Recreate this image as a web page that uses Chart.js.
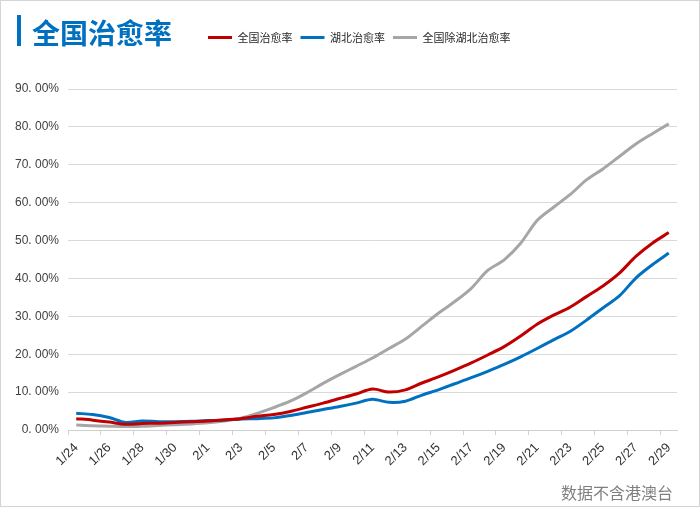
<!DOCTYPE html>
<html>
<head>
<meta charset="utf-8">
<script src="https://cdn.jsdelivr.net/npm/chart.js@4.4.0/dist/chart.umd.min.js"></script>
<style>
  html, body { margin: 0; padding: 0; background: #fff; }
  #wrap { position: relative; width: 700px; height: 507px; overflow: hidden; }
  #box { position: absolute; left: 0; top: 0; width: 700px; height: 507px; }
  #frame { position: absolute; left: 0; top: 0; width: 700px; height: 507px; box-sizing: border-box; border: 1px solid #d4d4d4; pointer-events: none; }
  #bar { position: absolute; left: 17px; top: 15px; width: 4px; height: 31px; background: #0070c0; }
  #title { position: absolute; left: 32px; top: 12px; line-height: 40px; font: bold 28px 'Noto Sans CJK SC', sans-serif; color: #0070c0; }
  #note { position: absolute; right: 27px; top: 480px; line-height: 20px; font: 16px 'Noto Sans CJK SC', sans-serif; color: #7f7f7f; }
</style>
</head>
<body>
<div id="wrap">
  <div id="box"><canvas id="chart"></canvas></div>
  <div id="bar"></div>
  <div id="title">全国治愈率</div>
  <div id="note">数据不含港澳台</div>
  <div id="frame"></div>
</div>
<script>
const dates = [
  '1/24', '1/25', '1/26', '1/27', '1/28', '1/29', '1/30', '1/31',
  '2/1', '2/2', '2/3', '2/4', '2/5', '2/6', '2/7', '2/8', '2/9', '2/10',
  '2/11', '2/12', '2/13', '2/14', '2/15', '2/16', '2/17', '2/18', '2/19', '2/20',
  '2/21', '2/22', '2/23', '2/24', '2/25', '2/26', '2/27', '2/28', '2/29'
];

// 治愈率, %
const nationalRate = [
  3.0, 2.6, 2.1, 1.5, 1.7, 1.8, 2.0, 2.2,
  2.4, 2.7, 3.0, 3.6, 4.1, 4.9, 6.0, 7.1, 8.3, 9.5,
  10.8, 10.0, 10.6, 12.4, 14.0, 15.8, 17.7, 19.8, 22.0, 24.8,
  27.9, 30.3, 32.4, 35.2, 38.0, 41.4, 45.8, 49.3, 52.1
];
const hubeiRate = [
  4.4, 4.1, 3.3, 2.0, 2.4, 2.2, 2.2, 2.3,
  2.5, 2.6, 2.9, 3.0, 3.2, 3.8, 4.6, 5.4, 6.2, 7.1,
  8.1, 7.3, 7.6, 9.2, 10.6, 12.2, 13.8, 15.5, 17.3, 19.3,
  21.5, 23.8, 26.0, 29.0, 32.2, 35.4, 40.1, 43.6, 46.7
];
const outsideHubeiRate = [
  1.3, 1.1, 1.0, 0.9, 1.0, 1.2, 1.4, 1.6,
  1.9, 2.4, 3.1, 4.4, 5.9, 7.6, 9.8, 12.3, 14.6, 16.8,
  19.0, 21.5, 24.0, 27.4, 30.8, 33.9, 37.4, 42.1, 44.9, 49.3,
  55.3, 58.8, 62.1, 66.0, 68.9, 72.2, 75.5, 78.2, 80.8
];

const yTicks = [0, 10, 20, 30, 40, 50, 60, 70, 80, 90];

Chart.defaults.font.family = "'Liberation Sans', 'Noto Sans CJK SC', sans-serif";
Chart.defaults.color = '#404040';

// legend sits on the title row, left of the plot's right edge
const legendSpot = {
  id: 'legendSpot',
  afterLayout(chart) {
    const lg = chart.legend;
    const h = lg.bottom - lg.top;
    lg.left = 200;
    lg.right = 690;
    lg.top = 24;
    lg.bottom = 24 + h;
  }
};

const line = (label, data, color) => ({
  label: label,
  data: data,
  borderColor: color,
  backgroundColor: color,
  borderWidth: 3,
  pointRadius: 0,
  tension: 0.3,
  fill: false
});

new Chart(document.getElementById('chart'), {
  type: 'line',
  data: {
    labels: dates,
    datasets: [
      line('全国治愈率', nationalRate, '#c00000'),
      line('湖北治愈率', hubeiRate, '#0070c0'),
      line('全国除湖北治愈率', outsideHubeiRate, '#a6a6a6')
    ]
  },
  plugins: [legendSpot],
  options: {
    responsive: true,
    maintainAspectRatio: false,
    animation: false,
    layout: {
      padding: { top: 60, right: 23, left: 0, bottom: 0 }
    },
    scales: {
      x: {
        offset: true,
        afterFit: (scale) => { scale.height = 77; },
        border: { display: true, color: '#d0d0d0', width: 1 },
        grid: {
          offset: true,
          drawOnChartArea: false,
          drawTicks: true,
          tickLength: 5,
          color: (ctx) => (ctx.index % 2 === 0 ? '#d0d0d0' : 'rgba(0,0,0,0)')
        },
        ticks: {
          autoSkip: false,
          maxRotation: 45,
          minRotation: 45,
          padding: 5,
          font: { size: 13 },
          color: '#333333',
          callback: (value, index) => (index % 2 === 0 ? dates[index] : '')
        }
      },
      y: {
        min: yTicks[0],
        max: yTicks[yTicks.length - 1],
        afterFit: (scale) => { scale.width = 68; },
        afterBuildTicks: (scale) => { scale.ticks = yTicks.map(v => ({ value: v })); },
        border: { display: false },
        grid: { color: '#d9d9d9', lineWidth: 1, drawTicks: false },
        ticks: {
          padding: 9,
          font: { size: 12 },
          color: '#404040',
          callback: (v) => v.toFixed(2).replace('.', '. ') + '%'
        }
      }
    },
    plugins: {
      legend: {
        position: 'top',
        align: 'start',
        labels: {
          usePointStyle: true,
          pointStyle: 'line',
          pointStyleWidth: 24,
          padding: 8,
          color: '#262626',
          font: { size: 11, family: "'Noto Sans CJK SC', sans-serif" }
        }
      },
      tooltip: { enabled: false }
    }
  }
});
</script>
</body>
</html>
